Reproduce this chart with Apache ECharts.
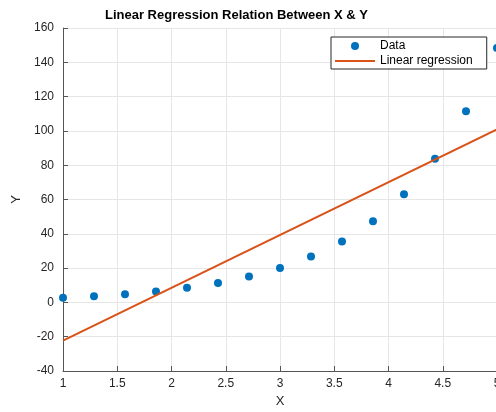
<!DOCTYPE html>
<html>
<head>
<meta charset="utf-8">
<script src="https://cdn.jsdelivr.net/npm/echarts@6/dist/echarts.min.js"></script>
<style>
html,body{margin:0;padding:0;background:#fff;}
#chart{width:496px;height:412px;}
</style>
</head>
<body>
<div id="chart"></div>
<script>
// Data
var dataX = [1, 1.2857, 1.5714, 1.8571, 2.1429, 2.4286, 2.7143, 3, 3.2857, 3.5714, 3.8571, 4.1429, 4.4286, 4.7143, 5];
var dataY = [2.7, 3.6, 4.8, 6.4, 8.5, 11.3, 15.1, 20.1, 26.7, 35.5, 47.3, 63.0, 83.8, 111.5, 148.4];
var fitX = [1, 5];
var fitY = [-22.3, 100.9];
var titleText = 'Linear Regression Relation Between X & Y';
var seriesNames = ['Data', 'Linear regression'];

var font = '"Liberation Sans", Arial, Helvetica, sans-serif';
var chart = echarts.init(document.getElementById('chart'), null, {renderer: 'canvas'});
chart.setOption({
  animation: false,
  backgroundColor: '#ffffff',
  textStyle: {fontFamily: font},
  title: {
    text: titleText,
    left: 105, top: 9, padding: 0,
    textStyle: {fontFamily: font, fontSize: 13, fontWeight: 'bold', color: '#000'}
  },
  grid: {left: 63, top: 28, width: 434, bottom: 41, containLabel: false, outerBoundsMode: 'none'},
  legend: {
    orient: 'vertical',
    left: 331, top: 37,
    padding: [3, 14, 2, 4],
    itemGap: 3,
    itemWidth: 40, itemHeight: 8,
    symbolKeepAspect: true,
    borderColor: '#262626', borderWidth: 1,
    backgroundColor: '#fff',
    textStyle: {fontFamily: font, fontSize: 12, color: '#000'},
    data: [
      {name: seriesNames[0], icon: 'circle'},
      {name: seriesNames[1], icon: 'path://M0,0H40V2.2H0Z', itemStyle: {color: '#D95319'}}
    ]
  },
  xAxis: {
    type: 'value', min: 1, max: 5, interval: 0.5,
    name: 'X', nameLocation: 'middle', nameGap: 24,
    nameTextStyle: {fontFamily: font, fontSize: 13, color: '#262626'},
    axisLine: {show: true, onZero: false, lineStyle: {color: '#555', width: 1}},
    axisTick: {show: true, inside: true, length: 5, lineStyle: {color: '#555'}},
    axisLabel: {fontFamily: font, fontSize: 12, color: '#262626', margin: 7},
    splitLine: {show: true, lineStyle: {color: '#e6e6e6', width: 1}}
  },
  yAxis: {
    type: 'value', min: -40, max: 160, interval: 20,
    name: 'Y', nameLocation: 'middle', nameGap: 38, nameRotate: 90,
    nameTextStyle: {fontFamily: font, fontSize: 13, color: '#262626'},
    axisLine: {show: true, onZero: false, lineStyle: {color: '#555', width: 1}},
    axisTick: {show: true, inside: true, length: 5, lineStyle: {color: '#555'}},
    axisLabel: {fontFamily: font, fontSize: 12, color: '#262626', margin: 9},
    splitLine: {show: true, lineStyle: {color: '#e6e6e6', width: 1}}
  },
  series: [
    {
      name: seriesNames[0], type: 'scatter',
      symbol: 'circle', symbolSize: 8,
      itemStyle: {color: '#0072BD', opacity: 1},
      clip: false,
      data: dataX.map(function (x, i) { return [x, dataY[i]]; })
    },
    {
      name: seriesNames[1], type: 'line',
      symbol: 'none', showSymbol: false,
      lineStyle: {color: '#D95319', width: 2},
      itemStyle: {color: '#D95319'},
      data: fitX.map(function (x, i) { return [x, fitY[i]]; })
    }
  ]
});
</script>
</body>
</html>
